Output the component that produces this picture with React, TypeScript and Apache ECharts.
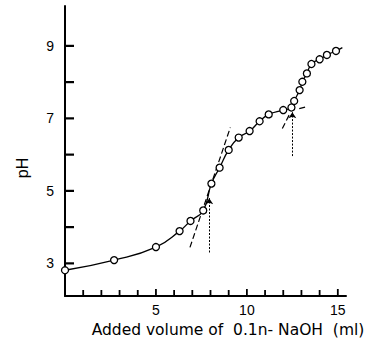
import React, { useEffect, useRef } from "react";
import * as echarts from "echarts";

// Titration data: added volume (ml) and measured pH
const volume = [0, 2.7, 5.0, 6.3, 6.9, 7.6, 8.05, 8.5, 9.0, 9.55, 10.15, 10.7, 11.2, 12.0, 12.45, 12.6, 12.9, 13.05, 13.3, 13.55, 14.0, 14.4, 14.9];
const pH = [2.81, 3.09, 3.45, 3.89, 4.17, 4.46, 5.2, 5.64, 6.13, 6.47, 6.65, 6.92, 7.11, 7.23, 7.3, 7.48, 7.78, 8.01, 8.24, 8.5, 8.63, 8.75, 8.86];
// end of the drawn curve beyond the last point
const curveEnd = [15.25, 8.95];

// tangent (dashed) lines
const tangent1 = [[6.87, 3.44], [9.09, 6.75]];
const tangent2a = [[11.95, 6.72], [12.35, 7.12]];
const tangent2b = [[12.88, 7.27], [13.2, 7.31]];
// equivalence-point arrows (dotted)
const arrow1 = [[7.93, 3.3], [7.93, 4.8]];
const arrow2 = [[12.5, 5.96], [12.5, 7.17]];

const xTicks = [1, 2, 3, 4, 5, 6, 7, 8, 9, 10, 11, 12, 13, 14, 15];
const xLabels = [5, 10, 15];
const yTicks = [3, 4, 5, 6, 7, 8, 9];
const yLabels = [3, 5, 7, 9];

const X_MIN = 0;
const X_MAX = 15.45;
const Y_MIN = 2.1;
const Y_MAX = 10.1;

export default function App() {
  const ref = useRef<HTMLDivElement>(null);
  useEffect(() => {
    if (!ref.current) return;
    const chart = echarts.init(ref.current, null, { renderer: "svg" });
    const points = volume.map((v, i) => [v, pH[i]]);
    const ink = "#000";
    const font = "Liberation Sans";
    const tickData = [
      ...xTicks.map((v) => ({
        value: [v, Y_MIN],
        symbolSize: [1.8, v % 5 === 0 ? 6 : 5],
        symbolOffset: [0, v % 5 === 0 ? -4 : -3.5],
      })),
      ...yTicks.map((v) => ({
        value: [X_MIN, v],
        symbolSize: [8, 2.2],
        symbolOffset: [5, 0],
      })),
    ];
    chart.setOption({
      animation: false,
      backgroundColor: "#fff",
      grid: { left: 65, right: 24, top: 6, bottom: 47 },
      xAxis: {
        type: "value",
        min: X_MIN,
        max: X_MAX,
        splitLine: { show: false },
        axisLine: { show: true, onZero: false, lineStyle: { color: ink, width: 2 } },
        axisTick: { show: false },
        axisLabel: { customValues: xLabels, color: ink, fontSize: 14, fontFamily: font, margin: 7 },
      },
      yAxis: {
        type: "value",
        min: Y_MIN,
        max: Y_MAX,
        splitLine: { show: false },
        axisLine: { show: true, onZero: false, lineStyle: { color: ink, width: 2 } },
        axisTick: { show: false },
        axisLabel: { customValues: yLabels, color: ink, fontSize: 14, fontFamily: font, margin: 11 },
      },
      graphic: [
        {
          type: "text",
          x: 22,
          y: 168,
          rotation: Math.PI / 2,
          style: { text: "pH", fill: ink, fontSize: 16, fontFamily: font, align: "center", verticalAlign: "middle" },
        },
        {
          type: "text",
          x: 228,
          y: 330,
          style: { text: "Added volume of  0.1n- NaOH  (ml)", fill: ink, fontSize: 15.5, fontFamily: "DejaVu Sans", align: "center", verticalAlign: "middle" },
        },
      ],
      series: [
        {
          type: "scatter",
          name: "ticks",
          silent: true,
          clip: false,
          data: tickData,
          symbol: "rect",
          itemStyle: { color: ink, opacity: 1 },
          z: 6,
        },
        {
          type: "line",
          data: [...points, curveEnd],
          smooth: 0.5,
          showSymbol: false,
          clip: false,
          lineStyle: { color: ink, width: 1.3 },
          z: 3,
        },
        {
          type: "lines",
          coordinateSystem: "cartesian2d",
          symbol: ["none", "none"],
          lineStyle: { color: ink, width: 1.2, type: [6, 3], opacity: 1 },
          data: [{ coords: tangent1 }, { coords: tangent2a }, { coords: tangent2b }],
          z: 3,
        },
        {
          type: "lines",
          coordinateSystem: "cartesian2d",
          symbol: ["none", "arrow"],
          symbolSize: 6,
          lineStyle: { color: ink, width: 1, type: [2, 1.5], opacity: 1 },
          data: [{ coords: arrow1 }, { coords: arrow2 }],
          z: 3,
        },
        {
          type: "scatter",
          data: points,
          symbol: "circle",
          symbolSize: 7,
          clip: false,
          itemStyle: { color: "#fff", borderColor: ink, borderWidth: 1.3, opacity: 1 },
          z: 5,
        },
      ],
    });
    return () => chart.dispose();
  }, []);
  return <div ref={ref} style={{ position: "fixed", left: 0, top: 0, width: 370, height: 343 }} />;
}
